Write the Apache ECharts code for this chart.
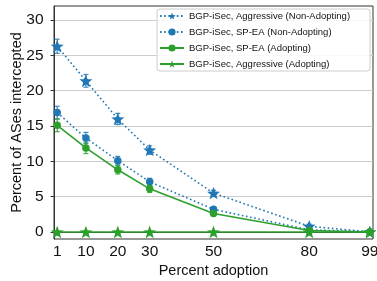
<!DOCTYPE html>
<html><head><meta charset="utf-8">
<script src="https://cdn.jsdelivr.net/npm/echarts@6/dist/echarts.min.js"></script>
<style>html,body{margin:0;padding:0;background:#fff}#c{width:377px;height:281px}</style>
</head><body><div id="c"></div>
<script>
// ---- data ----
const adoption = [1, 10, 20, 30, 50, 80, 99];
const xTicks = [1, 10, 20, 30, 50, 80, 99];
const yTicks = [0, 5, 10, 15, 20, 25, 30];
const seriesNames = [
  'BGP-iSec, Aggressive (Non-Adopting)',
  'BGP-iSec, SP-EA (Non-Adopting)',
  'BGP-iSec, SP-EA (Adopting)',
  'BGP-iSec, Aggressive (Adopting)'
];
const aggrNonAdopt    = [26.3, 21.4, 16.0, 11.6, 5.5, 0.8, 0.0];
const aggrNonAdoptErr = [1.0, 0.9, 0.8, 0.6, 0.4, 0.3, 0.0];
const speaNonAdopt    = [16.9, 13.3, 10.1, 7.1, 3.2, 0.3, 0.0];
const speaNonAdoptErr = [0.9, 0.8, 0.6, 0.5, 0.3, 0.1, 0.0];
const speaAdopt       = [15.1, 11.9, 8.8, 6.1, 2.6, 0.2, 0.0];
const speaAdoptErr    = [0.9, 0.8, 0.6, 0.5, 0.3, 0.1, 0.0];
const aggrAdopt       = [0, 0, 0, 0, 0, 0, 0];
const aggrAdoptErr    = [0, 0, 0, 0, 0, 0, 0];

// ---- styling helpers ----
const BLUE = '#1f77b4', GREEN = '#2ca02c';
const FONT = 'Liberation Sans, Arial, sans-serif';
function starPath() {
  let d = '';
  for (let i = 0; i < 10; i++) {
    const a = (-90 + i * 36) * Math.PI / 180;
    const r = (i % 2) ? 0.42 : 1;
    d += (i ? 'L' : 'M') + (r * Math.cos(a) * 100).toFixed(2) + ' ' + (r * Math.sin(a) * 100).toFixed(2) + ' ';
  }
  return 'path://' + d + 'Z';
}
const STAR = starPath();

function pts(vals) { return adoption.map((x, i) => [x, vals[i]]); }
function errData(vals, errs) { return adoption.map((x, i) => [x, vals[i] - errs[i], vals[i] + errs[i]]); }

function lineSeries(name, vals, color, dotted, symbol, size, z) {
  return {
    name, type: 'line', data: pts(vals), z,
    symbol, symbolSize: size, showAllSymbol: true, clip: false,
    itemStyle: { color, opacity: 1 },
    lineStyle: { color, width: 1.6, type: dotted ? [1.6, 2.6] : 'solid', cap: 'butt' },
    emphasis: { disabled: true }, animation: false
  };
}
function errSeries(vals, errs, color, z) {
  return {
    type: 'custom', data: errData(vals, errs), z, silent: true, clip: false, animation: false,
    renderItem(params, api) {
      const lo = api.coord([api.value(0), api.value(1)]);
      const hi = api.coord([api.value(0), api.value(2)]);
      const st = { stroke: color, lineWidth: 1.2, opacity: 0.85 };
      return { type: 'group', children: [
        { type: 'line', shape: { x1: lo[0], y1: lo[1], x2: hi[0], y2: hi[1] }, style: st },
        { type: 'line', shape: { x1: lo[0] - 2.5, y1: lo[1], x2: lo[0] + 2.5, y2: lo[1] }, style: st },
        { type: 'line', shape: { x1: hi[0] - 2.5, y1: hi[1], x2: hi[0] + 2.5, y2: hi[1] }, style: st }
      ]};
    }
  };
}

const chart = echarts.init(document.getElementById('c'), null, { renderer: 'canvas' });
chart.setOption({
  animation: false,
  textStyle: { fontFamily: FONT },
  grid: { left: 54, right: 4, top: 6, bottom: 42, outerBoundsMode: 'none', containLabel: false,
    show: true, borderColor: '#333', borderWidth: 1, backgroundColor: 'transparent' },
  xAxis: {
    type: 'value', min: 0, max: 100,
    name: 'Percent adoption', nameLocation: 'middle', nameGap: 24, nameMoveOverlap: false,
    nameTextStyle: { fontSize: 14.5, color: '#111', fontFamily: FONT },
    axisLine: { show: true, lineStyle: { color: '#333', width: 1 } },
    axisTick: { show: true, inside: false, length: 3.5, customValues: xTicks, lineStyle: { color: '#333' } },
    axisLabel: { customValues: xTicks, fontSize: 15.5, color: '#111', margin: 5, fontFamily: FONT, hideOverlap: false },
    splitLine: { show: false }
  },
  yAxis: {
    type: 'value', min: -1, max: 32,
    name: 'Percent of ASes intercepted', nameLocation: 'middle', nameGap: 30, nameMoveOverlap: false,
    nameTextStyle: { fontSize: 14.5, color: '#111', fontFamily: FONT },
    axisLine: { show: true, onZero: false, lineStyle: { color: '#333', width: 1 } },
    axisTick: { show: true, length: 3.5, customValues: yTicks, lineStyle: { color: '#333' } },
    axisLabel: { customValues: yTicks, fontSize: 15.5, color: '#111', margin: 10.5, fontFamily: FONT },
    splitLine: { show: false }
  },
  legend: {
    data: seriesNames, orient: 'vertical', left: 157, top: 9, z: 10,
    padding: [2, 20, 2, 2], itemWidth: 24, itemHeight: 9, itemGap: 6,
    backgroundColor: 'rgba(255,255,255,0.85)', borderColor: '#ccc', borderWidth: 1, borderRadius: 3,
    textStyle: { fontSize: 9.5, color: '#111', fontFamily: FONT },
    selectedMode: false
  },
  series: [
    { type: 'line', data: [], silent: true, z: 0,
      markLine: { silent: true, z: 0, symbol: 'none', label: { show: false }, animation: false,
        lineStyle: { color: '#cccccc', width: 1, type: 'solid' },
        data: yTicks.map(v => ({ yAxis: v })) } },
    errSeries(aggrNonAdopt, aggrNonAdoptErr, BLUE, 3),
    errSeries(speaNonAdopt, speaNonAdoptErr, BLUE, 3),
    errSeries(speaAdopt, speaAdoptErr, GREEN, 5),
    lineSeries(seriesNames[0], aggrNonAdopt, BLUE, true, STAR, [13, 12.5], 4),
    lineSeries(seriesNames[1], speaNonAdopt, BLUE, true, 'circle', 7.5, 4),
    lineSeries(seriesNames[2], speaAdopt, GREEN, false, 'circle', 7.5, 6),
    lineSeries(seriesNames[3], aggrAdopt, GREEN, false, STAR, [13, 12.5], 6)
  ]
});
</script>
</body></html>
